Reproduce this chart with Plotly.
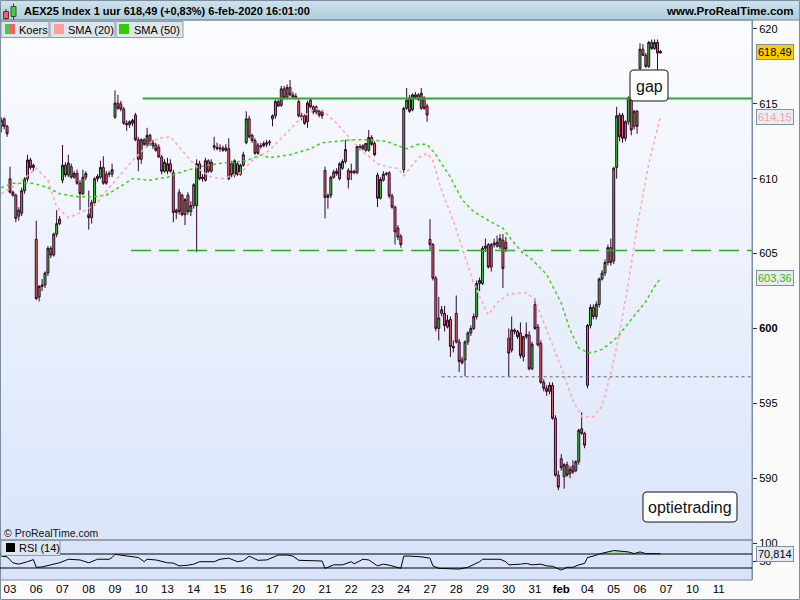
import numpy as np
import plotly.graph_objects as go

FONT = "Liberation Sans, Arial, sans-serif"

# ---------------- data ----------------
# session labels along the time axis (one per trading day, 9 hourly bars per day)
day_labels = ["03", "06", "07", "08", "09", "10", "13", "14", "15", "16", "17", "20", "21",
              "22", "23", "24", "27", "28", "29", "30", "31", "feb", "04", "05", "06", "07",
              "10", "11"]
BARS_PER_DAY = 9
FIRST_BAR = -3   # last three bars of 2 Jan are still visible

open_ = [
    613.5, 614.0, 613.5,
    610.0, 609.1, 608.9, 607.5, 607.7, 609.2, 610.0, 611.25, 610.75,
    605.95, 602.1, 602.8, 602.9, 603.7, 605.35, 604.9, 606.3, 607.0,
    609.9, 610.9, 610.25, 610.8, 610.1, 610.35, 609.7, 609.0, 610.1,
    607.6, 607.4, 608.4, 610.0, 610.1, 610.75, 610.3, 610.3, 610.3,
    614.1, 615.05, 615.0, 614.65, 613.7, 613.6, 613.7, 614.25, 612.6,
    611.3, 612.6, 612.2, 612.9, 612.2, 612.25, 612.1, 611.45, 610.5,
    610.5, 611.0, 610.4, 607.75, 609.1, 608.9, 607.6, 608.9, 607.8,
    608.2, 608.2, 611.0, 610.0, 609.9, 611.2, 610.5, 612.1, 612.1,
    612.0, 612.05, 611.9, 612.0, 611.0, 610.25, 611.0, 610.3, 610.9,
    612.4, 614.0, 612.9, 612.55, 612.25, 612.2, 612.2, 612.3, 612.4,
    614.0, 614.2, 615.15, 614.9, 616.0, 615.45, 616.1, 615.6, 615.45,
    615.15, 614.2, 614.2, 613.8, 615.25, 614.8, 614.45, 614.5, 614.45,
    610.55, 608.75, 608.9, 610.1, 610.5, 610.0, 610.7, 611.15, 610.55,
    610.4, 610.5, 610.4, 612.15, 612.0, 611.9, 611.9, 612.75, 612.35,
    610.25, 608.7, 609.9, 610.3, 610.4, 608.85, 608.1, 606.7, 606.15,
    610.6, 614.7, 615.4, 614.6, 615.6, 615.6, 614.7, 615.4, 614.85,
    605.95, 605.6, 603.35, 600.0, 601.0, 601.0, 600.1, 600.6, 598.8,
    601.0, 599.1, 597.9, 597.9, 599.1, 599.7, 600.0, 600.8, 603.0,
    603.0, 605.35, 605.6, 604.1, 605.6, 605.5, 605.45, 605.9, 605.75,
    599.35, 598.55, 599.9, 599.8, 599.7, 598.1, 599.45, 599.55, 597.3,
    601.6, 600.1, 599.0, 596.4, 596.0, 595.8, 596.2, 594.0, 590.2,
    591.3, 590.1, 590.9, 590.3, 590.8, 590.5, 591.1, 593.3, 593.0,
    596.2, 600.2, 601.4, 600.8, 601.6, 603.3, 603.7, 604.4, 605.4,
    604.5, 610.75, 614.25, 614.25, 612.7, 613.8, 615.4, 613.5, 614.5,
    617.35, 618.65, 618.25, 617.5, 619.1, 618.7, 619.1, 618.4,
]
high = [
    614.1, 614.1, 613.6,
    610.8, 609.2, 609.0, 608.1, 609.4, 610.1, 611.6, 611.4, 611.0,
    607.2, 602.9, 603.3, 603.8, 605.5, 605.5, 606.4, 607.9, 607.5,
    612.25, 611.1, 611.6, 611.0, 610.5, 610.6, 609.9, 610.6, 610.5,
    609.2, 608.6, 610.1, 610.3, 611.2, 611.5, 610.5, 610.5, 611.0,
    615.9, 615.6, 615.2, 614.8, 613.9, 613.9, 614.0, 614.4, 612.8,
    612.7, 612.7, 613.4, 613.0, 612.6, 612.4, 612.3, 611.6, 611.3,
    611.4, 611.3, 610.6, 608.0, 609.3, 609.0, 608.7, 609.1, 608.5,
    609.7, 611.3, 611.2, 610.3, 611.4, 611.3, 611.3, 612.8, 612.4,
    612.3, 612.2, 612.3, 612.7, 611.2, 611.3, 611.1, 611.0, 611.8,
    614.5, 614.2, 613.0, 612.7, 612.4, 612.4, 612.5, 612.6, 612.6,
    614.3, 615.3, 615.3, 616.2, 616.2, 616.3, 616.6, 615.8, 615.7,
    615.3, 614.4, 614.3, 615.2, 615.4, 614.9, 614.9, 614.6, 614.6,
    610.8, 609.0, 610.2, 610.6, 610.7, 611.1, 611.3, 612.6, 610.7,
    611.0, 610.6, 612.2, 612.3, 612.3, 612.4, 613.25, 612.9, 612.5,
    610.4, 610.1, 610.5, 610.45, 610.5, 609.0, 608.2, 606.9, 606.3,
    614.8, 616.05, 615.6, 615.7, 615.8, 615.7, 616.05, 615.5, 615.0,
    607.3, 605.7, 603.5, 602.1, 601.5, 601.5, 600.9, 600.8, 599.2,
    602.2, 599.3, 598.1, 599.2, 599.8, 600.2, 601.0, 603.2, 603.4,
    605.5, 606.0, 605.7, 605.7, 606.0, 606.2, 606.3, 606.3, 606.1,
    600.0, 600.8, 600.0, 599.9, 600.4, 599.5, 600.4, 599.8, 599.1,
    602.0, 600.3, 599.2, 596.6, 596.2, 596.4, 596.4, 594.2, 590.5,
    591.6, 591.0, 591.1, 590.8, 591.2, 591.2, 593.3, 594.4, 593.1,
    600.3, 601.6, 601.6, 601.8, 603.4, 603.9, 604.6, 605.6, 606.0,
    610.8, 614.8, 614.4, 614.4, 613.9, 615.5, 615.5, 614.6, 614.6,
    619.05, 619.0, 618.4, 619.2, 619.3, 619.3, 619.3, 618.6,
]
low = [
    613.1, 613.3, 612.8,
    609.0, 608.8, 607.1, 607.2, 607.5, 609.0, 609.8, 610.6, 610.5,
    601.9, 601.8, 602.5, 602.7, 603.5, 604.7, 604.8, 606.1, 606.9,
    609.7, 610.1, 610.1, 610.0, 610.0, 609.6, 607.9, 608.9, 609.9,
    606.6, 607.0, 608.2, 609.8, 610.0, 609.6, 609.6, 610.1, 610.1,
    614.0, 614.6, 614.5, 613.6, 613.2, 613.4, 613.5, 612.5, 610.5,
    611.0, 612.2, 612.1, 612.2, 612.0, 611.8, 611.4, 610.3, 610.4,
    610.3, 610.4, 607.1, 607.3, 607.6, 607.5, 606.9, 607.6, 607.5,
    608.0, 605.1, 609.9, 609.8, 609.8, 610.4, 610.4, 611.9, 611.9,
    611.8, 611.8, 611.8, 609.9, 610.1, 610.1, 610.2, 610.2, 610.8,
    612.3, 612.7, 612.4, 611.6, 611.6, 612.0, 612.1, 612.1, 612.2,
    613.5, 614.0, 614.8, 614.8, 615.3, 615.3, 615.5, 615.4, 615.3,
    614.1, 613.9, 613.6, 613.4, 614.7, 614.3, 614.3, 614.1, 614.0,
    607.35, 608.0, 608.7, 610.0, 610.2, 609.9, 610.6, 611.0, 609.35,
    609.9, 610.3, 610.3, 611.9, 611.9, 611.8, 611.8, 612.2, 611.5,
    608.1, 608.6, 609.8, 610.2, 608.7, 608.0, 605.6, 605.9, 605.4,
    610.4, 614.6, 614.4, 614.5, 615.3, 615.2, 614.6, 614.6, 613.8,
    605.2, 603.2, 599.8, 599.2, 600.8, 599.8, 600.0, 598.1, 598.4,
    599.0, 597.1, 597.6, 596.8, 598.9, 599.5, 599.9, 600.6, 602.5,
    602.9, 605.1, 604.0, 603.8, 605.4, 605.4, 605.3, 602.7, 605.1,
    596.8, 598.4, 599.6, 599.3, 598.0, 597.8, 599.3, 597.2, 597.2,
    599.9, 598.8, 596.3, 595.8, 595.5, 595.6, 593.9, 590.1, 589.2,
    590.5, 589.3, 590.1, 590.0, 590.3, 590.4, 590.9, 592.9, 592.0,
    596.0, 600.0, 600.6, 600.6, 601.4, 603.2, 603.5, 604.2, 604.2,
    604.3, 610.0, 612.5, 612.4, 612.5, 613.6, 612.9, 613.3, 613.0,
    617.3, 618.2, 617.4, 617.4, 618.6, 618.6, 617.15, 618.35,
]
close = [
    613.9, 613.5, 613.0,
    609.1, 608.9, 607.35, 607.9, 609.2, 610.0, 611.25, 610.75, 610.9,
    602.0, 602.8, 602.9, 603.7, 605.35, 604.9, 606.3, 607.0, 607.3,
    610.9, 610.25, 611.05, 610.1, 610.35, 609.7, 609.0, 610.1, 610.35,
    607.4, 608.4, 610.0, 610.15, 610.75, 609.7, 609.7, 610.35, 610.6,
    615.05, 614.7, 614.65, 613.7, 613.6, 613.8, 613.9, 612.6, 611.3,
    612.6, 612.3, 612.9, 612.35, 612.4, 611.9, 611.45, 610.5, 611.1,
    611.0, 610.5, 607.75, 607.9, 607.8, 607.6, 608.6, 607.8, 608.2,
    609.6, 611.0, 610.0, 610.1, 611.2, 610.5, 611.1, 612.2, 612.0,
    612.05, 611.9, 612.05, 610.0, 610.25, 611.2, 610.3, 610.9, 611.6,
    614.0, 612.8, 612.55, 611.7, 611.7, 612.15, 612.35, 612.4, 612.45,
    614.2, 615.15, 614.85, 616.0, 615.4, 616.1, 615.6, 615.45, 615.5,
    614.2, 614.1, 613.7, 615.05, 614.8, 614.45, 614.8, 614.25, 614.2,
    608.75, 608.9, 610.1, 610.45, 610.35, 611.0, 611.15, 611.95, 609.95,
    610.5, 610.4, 612.15, 612.0, 612.2, 612.35, 612.75, 612.3, 611.6,
    608.7, 609.95, 610.3, 610.35, 608.85, 608.1, 606.45, 606.1, 605.6,
    614.7, 615.25, 614.5, 615.6, 615.45, 615.3, 615.7, 614.7, 614.25,
    605.6, 603.35, 600.0, 600.7, 601.25, 600.2, 600.55, 598.8, 598.7,
    599.1, 597.8, 597.7, 599.1, 599.7, 600.0, 600.8, 603.0, 603.2,
    605.35, 605.5, 604.1, 605.6, 605.7, 605.75, 606.0, 604.0, 605.3,
    598.35, 599.9, 599.8, 599.45, 598.2, 599.45, 599.6, 597.3, 598.95,
    600.0, 598.9, 596.4, 596.0, 595.8, 596.2, 594.0, 590.2, 589.4,
    590.7, 590.9, 590.2, 590.6, 590.4, 591.1, 593.2, 593.0, 592.2,
    600.2, 601.4, 600.8, 601.6, 603.3, 603.7, 604.4, 605.4, 604.4,
    610.7, 614.2, 612.8, 612.7, 613.8, 615.4, 613.25, 614.5, 613.5,
    618.65, 618.25, 617.5, 619.1, 618.7, 619.1, 618.4, 618.49,
]

# SMA (20): bar index -> value
sma20_bar = [-3, 3, 9, 13, 16, 20, 25, 30, 34, 42, 48, 51, 55, 58, 62, 65, 69, 73, 79, 81, 83,
             89, 96, 100, 105, 107, 112, 117, 121, 126, 129, 133, 135, 140, 143, 145, 148, 152,
             155, 159, 164, 167, 171, 177, 180, 184, 189, 193, 196, 200, 203, 206, 209, 212,
             215, 219, 223]
sma20_val = [609.0, 609.7, 610.7, 609.9, 608.1, 607.4, 607.8, 608.4, 609.4, 611.2, 612.4, 612.7,
             612.8, 612.1, 611.2, 610.6, 610.1, 610.0, 610.4, 610.8, 611.2, 611.9, 613.3, 614.1,
             614.7, 614.6, 613.7, 612.6, 611.8, 611.0, 610.8, 610.7, 610.2, 611.4, 611.7, 611.2,
             609.2, 607.2, 605.4, 603.0, 600.9, 601.7, 602.3, 602.4, 601.9, 599.9, 597.4, 595.2,
             594.1, 594.1, 594.8, 597.0, 599.7, 603.0, 606.8, 611.0, 614.15]

# SMA (50)
sma50_bar = [-3, 1, 8, 13, 17, 23, 28, 33, 38, 42, 48, 54, 58, 65, 71, 76, 81, 86, 89, 96, 103,
             107, 117, 123, 129, 133, 136, 140, 143, 146, 151, 155, 159, 165, 169, 172, 176, 178,
             181, 184, 189, 192, 195, 198, 200, 203, 207, 209, 213, 218, 221, 223]
sma50_val = [609.4, 609.7, 609.7, 609.4, 609.0, 608.8, 608.8, 608.9, 609.5, 610.0, 609.9, 610.1,
             610.4, 610.8, 611.0, 611.1, 611.2, 611.6, 611.4, 611.6, 612.0, 612.4, 612.6, 612.6,
             612.5, 612.2, 612.0, 612.3, 612.3, 611.6, 610.1, 608.6, 607.8, 607.1, 606.7, 605.9,
             605.0, 604.8, 604.2, 603.6, 601.7, 599.9, 598.7, 598.4, 598.4, 598.6, 599.2, 599.6,
             600.6, 601.8, 602.8, 603.36]

# RSI (14)
rsi_bar = [-3, -1, 1, 3, 6, 8, 9, 11, 15, 17, 20, 24, 27, 30, 34, 35, 36, 40, 44, 46, 47, 50,
           54, 56, 58, 61, 63, 65, 70, 72, 75, 78, 80, 82, 85, 88, 92, 95, 97, 99, 104, 107, 108,
           111, 114, 117, 118, 121, 123, 126, 128, 130, 134, 135, 137, 141, 144, 145, 147, 151,
           154, 157, 159, 161, 162, 168, 170, 171, 175, 177, 179, 182, 184, 186, 189, 191, 193,
           195, 197, 198, 200, 202, 207, 209, 212, 214, 216, 218, 223]
rsi_val = [64, 62, 45, 41, 48, 54, 32, 33, 41, 45, 55, 53, 45, 55, 55, 60, 69, 64, 60, 48, 55,
           53, 45, 44, 36, 38, 41, 48, 48, 55, 58, 48, 51, 64, 52, 53, 67, 67, 64, 52, 52, 50,
           29, 39, 39, 48, 42, 55, 53, 36, 41, 38, 29, 64, 64, 62, 58, 36, 29, 27, 27, 32, 39,
           48, 55, 55, 48, 39, 41, 43, 39, 41, 36, 35, 24, 32, 32, 39, 43, 60, 64, 70, 80, 79,
           76, 71, 76, 71, 70.814]

# drawn levels: (price, first bar)
resistance = (615.35, 45.5)
support = (605.2, 41.5)
low_line = (596.77, 148.0)

# ---------------- geometry of the page ----------------
W, H = 800, 600
PLOT_R = 752          # right edge of the chart panels (px)
PLOT_T, PLOT_B = 20, 580
RSI_T = 540
BAR_PX = 26.25 / BARS_PER_DAY
FIRST_LABEL_PX = 10
x_range = [(0 - FIRST_LABEL_PX) / BAR_PX, (PLOT_R - FIRST_LABEL_PX) / BAR_PX]
main_range = [585.87, 620.6]
rsi_range = [-4.3, 110]


def pxx(v):
    return v / PLOT_R


def pxy(v):
    return (PLOT_B - v) / (PLOT_B - PLOT_T)


x = list(range(FIRST_BAR, FIRST_BAR + len(close)))

fig = go.Figure()

fig.add_trace(go.Candlestick(
    x=x, open=open_, high=high, low=low, close=close,
    increasing=dict(fillcolor="#33cc33", line=dict(color="#33062a", width=1)),
    decreasing=dict(fillcolor="#ee6464", line=dict(color="#33062a", width=1)),
    whiskerwidth=0, showlegend=False, hoverinfo="skip", xaxis="x", yaxis="y"))

fig.add_trace(go.Scatter(x=sma50_bar, y=sma50_val, mode="lines",
                         line=dict(color="#44cc22", width=1.5, dash="3px,3px"),
                         showlegend=False, hoverinfo="skip", yaxis="y"))
fig.add_trace(go.Scatter(x=sma20_bar, y=sma20_val, mode="lines",
                         line=dict(color="#ffaaaa", width=1.6, dash="3px,3px"),
                         showlegend=False, hoverinfo="skip", yaxis="y"))

# RSI with the overbought area filled
rsi_arr = np.array(rsi_val, dtype=float)
fig.add_trace(go.Scatter(x=rsi_bar, y=[70] * len(rsi_bar), mode="lines",
                         line=dict(width=0, color="rgba(0,0,0,0)"),
                         showlegend=False, hoverinfo="skip", yaxis="y2"))
fig.add_trace(go.Scatter(x=rsi_bar, y=np.maximum(rsi_arr, 70), mode="lines",
                         line=dict(width=0, color="rgba(0,0,0,0)"), fill="tonexty",
                         fillcolor="#a6e0a6", showlegend=False, hoverinfo="skip", yaxis="y2"))
fig.add_trace(go.Scatter(x=rsi_bar, y=rsi_val, mode="lines",
                         line=dict(color="#000000", width=1),
                         showlegend=False, hoverinfo="skip", yaxis="y2"))

shapes = []
# background gradient of the price panel
top_c, bot_c = (251, 252, 255), (219, 229, 250)
n_bands = 52
for k in range(n_bands):
    t = (k + 0.5) / n_bands
    c = tuple(round(a + (b - a) * t) for a, b in zip(top_c, bot_c))
    y0 = PLOT_T + k * (RSI_T - PLOT_T) / n_bands
    y1 = PLOT_T + (k + 1) * (RSI_T - PLOT_T) / n_bands
    shapes.append(dict(type="rect", xref="paper", yref="paper", x0=0, x1=1,
                       y0=pxy(y1), y1=pxy(y0) + 0.0005, fillcolor="rgb(%d,%d,%d)" % c,
                       line=dict(width=0), layer="below"))
shapes.append(dict(type="rect", xref="paper", yref="paper", x0=0, x1=1, y0=0, y1=pxy(RSI_T),
                   fillcolor="rgb(217,228,250)", line=dict(width=0), layer="below"))

# header bar
hdr_top, hdr_bot = (206, 227, 236), (176, 206, 220)
for k in range(5):
    t = (k + 0.5) / 5
    c = tuple(round(a + (b - a) * t) for a, b in zip(hdr_top, hdr_bot))
    shapes.append(dict(type="rect", xref="paper", yref="paper", x0=-0.01, x1=W / PLOT_R,
                       y0=pxy(4 * (k + 1)), y1=pxy(4 * k), fillcolor="rgb(%d,%d,%d)" % c,
                       line=dict(width=0), layer="below"))
shapes.append(dict(type="line", xref="paper", yref="paper", x0=0, x1=W / PLOT_R,
                   y0=pxy(20), y1=pxy(20), line=dict(color="#6f8898", width=1)))

# panel frames
shapes.append(dict(type="rect", xref="paper", yref="paper", x0=pxx(0.5), x1=1,
                   y0=pxy(RSI_T), y1=1, line=dict(color="#7d8ea0", width=1)))
shapes.append(dict(type="rect", xref="paper", yref="paper", x0=pxx(0.5), x1=1,
                   y0=0, y1=pxy(RSI_T), line=dict(color="#7d8ea0", width=1)))
shapes.append(dict(type="rect", xref="paper", yref="paper", x0=pxx(0.5), x1=pxx(799.5),
                   y0=pxy(599.5), y1=pxy(0.5), line=dict(color="#7d8ea0", width=1)))

# horizontal levels
shapes.append(dict(type="line", xref="x", yref="y", x0=resistance[1], x1=x_range[1],
                   y0=resistance[0], y1=resistance[0], line=dict(color="#2eaa2e", width=2)))
shapes.append(dict(type="line", xref="x", yref="y", x0=support[1], x1=x_range[1],
                   y0=support[0], y1=support[0],
                   line=dict(color="#2eaa2e", width=1.5, dash="20px,8px")))
shapes.append(dict(type="line", xref="x", yref="y", x0=low_line[1], x1=x_range[1],
                   y0=low_line[0], y1=low_line[0],
                   line=dict(color="#666666", width=1, dash="3px,3px")))

# RSI guide lines
for lvl in (70, 30):
    shapes.append(dict(type="line", xref="paper", yref="y2", x0=0, x1=1, y0=lvl, y1=lvl,
                       line=dict(color="#000000", width=1)))


def rr_path(x0, y0, x1, y1, r):
    P = lambda X, Y: "%.5f,%.5f" % (pxx(X), pxy(Y))
    return ("M%s L%s Q%s %s L%s Q%s %s L%s Q%s %s L%s Q%s %s Z" % (
        P(x0 + r, y0), P(x1 - r, y0), P(x1, y0), P(x1, y0 + r), P(x1, y1 - r),
        P(x1, y1), P(x1 - r, y1), P(x0 + r, y1), P(x0, y1), P(x0, y1 - r),
        P(x0, y0 + r), P(x0, y0), P(x0 + r, y0)))


shapes.append(dict(type="path", xref="paper", yref="paper", path=rr_path(630, 70, 668, 101, 4),
                   fillcolor="#ffffff", line=dict(color="#111111", width=1)))
shapes.append(dict(type="path", xref="paper", yref="paper", path=rr_path(643, 492, 737, 522, 4),
                   fillcolor="#ffffff", line=dict(color="#111111", width=1)))


def box(x0, y0, x1, y1, fill, line="#8c9caa"):
    shapes.append(dict(type="rect", xref="paper", yref="paper", x0=pxx(x0), x1=pxx(x1),
                       y0=pxy(y1), y1=pxy(y0), fillcolor=fill, line=dict(color=line, width=1)))


# legend boxes
box(1, 21.5, 49, 37.5, "#dde6ec")
box(50, 21.5, 115, 37.5, "#dde6ec")
box(116, 21.5, 183, 37.5, "#dde6ec")
box(5, 24, 10, 34, "#44cc44", line="rgba(0,0,0,0)")
box(10, 24, 15, 34, "#ee6464", line="rgba(0,0,0,0)")
box(54, 24, 64, 34, "#ff9d9d", line="rgba(0,0,0,0)")
box(119, 24, 129, 34, "#33cc00", line="rgba(0,0,0,0)")
# RSI label box
box(1, 540.5, 60, 555.5, "#dde6ec")
box(6, 543, 15, 552, "#000000", line="rgba(0,0,0,0)")

# header icon (two little candles)
shapes.append(dict(type="line", xref="paper", yref="paper", x0=pxx(6), x1=pxx(6),
                   y0=pxy(20), y1=pxy(9), line=dict(color="#333333", width=1)))
box(3.5, 11.5, 8.5, 18.5, "#ee6464", line="#553333")
shapes.append(dict(type="line", xref="paper", yref="paper", x0=pxx(13.5), x1=pxx(13.5),
                   y0=pxy(19.5), y1=pxy(3.5), line=dict(color="#333333", width=1)))
box(11, 6.5, 16, 16.5, "#44cc44", line="#335533")

annotations = []


def text(t, xp, yp, size=11, color="#000000", anchor="left", bold=False, **kw):
    if bold:
        t = "<b>%s</b>" % t
    annotations.append(dict(text=t, x=pxx(xp), y=pxy(yp), xref="paper", yref="paper",
                            xanchor=anchor, yanchor="middle", showarrow=False,
                            font=dict(family=FONT, size=size, color=color), **kw))


text("AEX25 Index 1 uur 618,49 (+0,83%) 6-feb-2020 16:01:00", 22, 11, size=11, bold=True)
text("www.ProRealTime.com", 796, 11, size=11.5, bold=True, anchor="right")
text("Koers", 17, 30, size=11)
text("SMA (20)", 66, 30, size=11)
text("SMA (50)", 132, 30, size=11)
text("© ProRealTime.com", 2, 533, size=10.5, color="#111111")
text("RSI (14)", 17, 548, size=11)
text("gap", 649, 86, size=16, anchor="center", color="#111111")
text("optietrading", 690, 507, size=16, anchor="center", color="#111111")

# value tags on the right-hand scale
def tag(val, label, yref, fg, bg):
    annotations.append(dict(text=label, x=pxx(756), y=val, xref="paper", yref=yref,
                            xanchor="left", yanchor="middle", showarrow=False,
                            font=dict(family=FONT, size=11, color=fg), bgcolor=bg,
                            bordercolor="#7f90a0", borderwidth=1, borderpad=1))


tag(close[-1], "618,49", "y", "#000000", "#ffcc00")
tag(sma20_val[-1], "614,15", "y", "#ff9d9d", "#e9eef6")
tag(sma50_val[-1], "603,36", "y", "#33bb00", "#e9eef6")
tag(rsi_val[-1], "70,814", "y2", "#000000", "#e3eaf4")

tickvals_x = [d * BARS_PER_DAY for d in range(len(day_labels))]
ticktext_x = ["<b>%s</b>" % s if s == "feb" else s for s in day_labels]

price_ticks = [590, 595, 600, 605, 610, 615, 620]
price_text = ["<b>600</b>" if v == 600 else str(v) for v in price_ticks]

fig.update_layout(
    width=W, height=H,
    margin=dict(l=0, r=W - PLOT_R, t=PLOT_T, b=H - PLOT_B, pad=0),
    paper_bgcolor="#fafafa", plot_bgcolor="rgba(0,0,0,0)",
    showlegend=False, hovermode=False,
    font=dict(family=FONT, size=11, color="#000000"),
    boxgap=0.04,
    xaxis=dict(range=x_range, anchor="y2", showgrid=False, zeroline=False, showline=False,
               tickvals=tickvals_x, ticktext=ticktext_x, ticks="", tickfont=dict(size=11.5),
               rangeslider=dict(visible=False), fixedrange=True),
    yaxis=dict(domain=[pxy(RSI_T), 1], range=main_range, side="right", anchor="x",
               showgrid=False, zeroline=False, showline=True, linecolor="#7d8ea0",
               tickvals=price_ticks, ticktext=price_text, ticks="outside", ticklen=4,
               tickcolor="#333333", tickfont=dict(size=11)),
    yaxis2=dict(domain=[0, pxy(RSI_T)], range=rsi_range, side="right", anchor="x",
                showgrid=False, zeroline=False, showline=True, linecolor="#7d8ea0",
                tickvals=[50, 100], ticktext=["50", "100"], ticks="outside", ticklen=4,
                tickcolor="#333333", tickfont=dict(size=11)),
    shapes=shapes, annotations=annotations,
)

fig.write_html("out.html", config={"displayModeBar": False},
               post_script="document.body.style.margin='0';document.body.style.padding='0';")
